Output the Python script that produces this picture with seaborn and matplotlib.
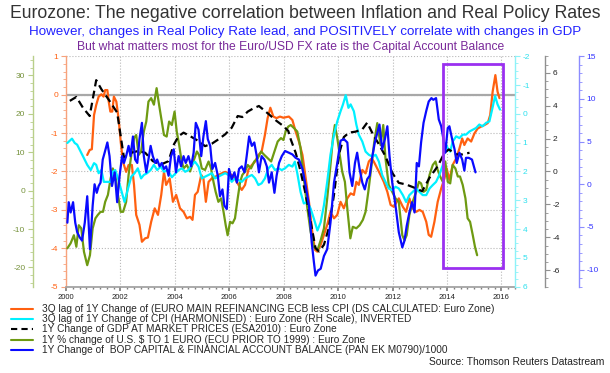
import matplotlib
matplotlib.use('Agg')
import matplotlib.pyplot as plt
from matplotlib.patches import Rectangle
from matplotlib.lines import Line2D
from matplotlib.ticker import MultipleLocator
import seaborn as sns

# (year, value) readings per series, each in its own axis units
orange_pts = [
    (2000.78, -1.57), (2000.87, -1.44), (2000.95, -1.42), (2001.03, -0.53), (2001.11, -0.27),
    (2001.20, -0.05), (2001.30, 0.01), (2001.38, -0.05), (2001.44, 0.12), (2001.52, 0.12),
    (2001.57, -0.18), (2001.63, -0.44), (2001.70, -0.44), (2001.76, -0.05), (2001.85, -0.18),
    (2001.93, -0.61), (2002.01, -1.22), (2002.09, -1.74), (2002.21, -2.01), (2002.30, -1.83),
    (2002.42, -1.83), (2002.50, -2.35), (2002.58, -3.13), (2002.70, -3.39), (2002.79, -3.83),
    (2002.91, -3.74), (2003.01, -3.72), (2003.13, -3.31), (2003.26, -2.96), (2003.38, -3.13),
    (2003.50, -2.61), (2003.60, -2.01), (2003.68, -2.35), (2003.81, -2.18), (2003.93, -2.79),
    (2004.05, -2.61), (2004.19, -2.96), (2004.32, -3.05), (2004.44, -3.22), (2004.56, -3.18),
    (2004.65, -3.26), (2004.74, -2.61), (2004.84, -2.53), (2004.97, -2.09), (2005.05, -2.18),
    (2005.14, -2.79), (2005.24, -2.27), (2005.36, -2.18), (2005.48, -2.14), (2005.60, -2.09),
    (2005.72, -2.05), (2005.85, -2.01), (2005.97, -2.05), (2006.09, -2.09), (2006.21, -2.18),
    (2006.34, -2.35), (2006.46, -2.48), (2006.58, -2.35), (2006.70, -1.96), (2006.83, -1.83),
    (2006.95, -1.74), (2007.07, -1.57), (2007.19, -1.48), (2007.31, -1.05), (2007.41, -0.61),
    (2007.51, -0.34), (2007.62, -0.57), (2007.74, -0.61), (2007.86, -0.57), (2007.99, -0.60),
    (2008.19, -0.57), (2008.32, -0.66), (2008.44, -0.96), (2008.56, -1.22), (2008.69, -1.57),
    (2008.81, -2.18), (2008.93, -2.79), (2009.05, -3.57), (2009.15, -4.04), (2009.24, -4.09),
    (2009.36, -3.91), (2009.48, -3.65), (2009.60, -3.39), (2009.72, -3.05), (2009.85, -3.22),
    (2009.97, -3.13), (2010.09, -2.79), (2010.21, -2.96), (2010.34, -2.70), (2010.46, -2.57),
    (2010.58, -2.61), (2010.67, -2.27), (2010.76, -2.35), (2010.89, -1.96), (2011.01, -2.05),
    (2011.13, -1.74), (2011.23, -1.66), (2011.31, -1.74), (2011.44, -1.92), (2011.56, -2.09),
    (2011.68, -2.27), (2011.81, -2.53), (2011.93, -2.87), (2012.05, -2.92), (2012.23, -2.70),
    (2012.38, -2.92), (2012.50, -3.05), (2012.62, -2.70), (2012.74, -2.96), (2012.87, -3.05),
    (2012.99, -3.00), (2013.11, -3.05), (2013.24, -3.31), (2013.33, -3.65), (2013.42, -3.70),
    (2013.54, -3.31), (2013.66, -2.79), (2013.79, -2.44), (2013.91, -2.18), (2013.99, -1.92),
    (2014.09, -2.22), (2014.21, -1.83), (2014.34, -1.66), (2014.46, -1.40), (2014.56, -1.14),
    (2014.64, -1.31), (2014.76, -1.14), (2014.89, -1.22), (2015.01, -1.01), (2015.13, -0.88),
    (2015.26, -0.83), (2015.38, -0.79), (2015.50, -0.74), (2015.59, -0.53), (2015.68, 0.08),
    (2015.78, 0.51), (2015.86, 0.08), (2015.93, -0.09),
]

cyan_pts = [
    (2000.05, 1.01), (2000.14, 0.93), (2000.22, 0.86), (2000.32, 1.01), (2000.41, 1.07),
    (2000.54, 1.31), (2000.66, 1.54), (2000.78, 1.77), (2000.91, 1.95), (2001.03, 1.71),
    (2001.11, 1.77), (2001.20, 2.06), (2001.30, 1.95), (2001.39, 2.36), (2001.52, 2.36),
    (2001.64, 2.36), (2001.72, 2.01), (2001.81, 1.95), (2001.91, 2.24), (2002.03, 2.65),
    (2002.15, 3.06), (2002.28, 2.59), (2002.40, 2.18), (2002.52, 2.06), (2002.64, 1.89),
    (2002.76, 2.24), (2002.86, 2.12), (2002.98, 2.06), (2003.11, 1.95), (2003.23, 1.77),
    (2003.35, 1.95), (2003.48, 1.83), (2003.60, 2.01), (2003.74, 1.95), (2003.89, 2.20),
    (2004.14, 1.95), (2004.26, 1.89), (2004.38, 2.01), (2004.50, 1.95), (2004.62, 1.77),
    (2004.74, 1.66), (2004.87, 1.83), (2004.99, 2.24), (2005.11, 2.18), (2005.24, 2.12),
    (2005.36, 2.06), (2005.48, 2.24), (2005.60, 2.18), (2005.72, 2.12), (2005.85, 2.06),
    (2005.97, 2.12), (2006.09, 2.36), (2006.21, 2.24), (2006.34, 2.30), (2006.46, 2.36),
    (2006.58, 2.24), (2006.70, 2.18), (2006.83, 2.12), (2006.95, 2.24), (2007.07, 2.47),
    (2007.19, 2.41), (2007.31, 2.24), (2007.44, 1.89), (2007.56, 1.77), (2007.68, 1.95),
    (2007.81, 1.89), (2007.93, 1.95), (2008.05, 1.89), (2008.19, 1.77), (2008.32, 1.83),
    (2008.41, 1.66), (2008.50, 2.06), (2008.62, 2.71), (2008.74, 3.11), (2008.87, 3.06),
    (2008.99, 3.29), (2009.11, 3.64), (2009.24, 4.05), (2009.36, 3.76), (2009.48, 3.17),
    (2009.60, 2.36), (2009.72, 1.42), (2009.85, 0.72), (2009.97, 0.26), (2010.09, -0.09),
    (2010.18, -0.33), (2010.28, -0.65), (2010.38, -0.21), (2010.46, -0.33), (2010.58, -0.09),
    (2010.67, 0.37), (2010.76, 0.72), (2010.89, 0.96), (2011.01, 1.31), (2011.13, 1.42),
    (2011.26, 1.48), (2011.38, 1.42), (2011.50, 1.66), (2011.62, 2.12), (2011.74, 2.36),
    (2011.86, 2.59), (2011.99, 2.65), (2012.11, 2.53), (2012.23, 2.59), (2012.38, 2.82),
    (2012.50, 3.06), (2012.62, 2.82), (2012.74, 2.71), (2012.87, 2.59), (2012.99, 2.71),
    (2013.11, 2.82), (2013.24, 2.82), (2013.36, 2.59), (2013.48, 2.47), (2013.60, 2.36),
    (2013.72, 2.12), (2013.85, 1.77), (2013.94, 1.01), (2014.03, 1.19), (2014.12, 1.31),
    (2014.21, 0.96), (2014.34, 0.78), (2014.46, 0.84), (2014.58, 0.72), (2014.70, 0.72),
    (2014.83, 0.61), (2014.95, 0.55), (2015.07, 0.49), (2015.19, 0.37), (2015.31, 0.43),
    (2015.44, 0.31), (2015.56, 0.26), (2015.66, -0.15), (2015.77, -0.62), (2015.86, -0.33),
    (2015.95, -0.15),
]

gdp_pts = [
    (2000.14, 4.29), (2000.38, 4.53), (2000.62, 3.88), (2000.87, 3.37), (2001.11, 5.55),
    (2001.30, 5.00), (2001.60, 4.29), (2001.88, 3.58), (2002.13, 0.84), (2002.40, 1.14),
    (2002.64, 1.24), (2002.91, 1.14), (2003.19, 0.63), (2003.50, 0.43), (2003.77, 0.63),
    (2003.95, 1.60), (2004.14, 2.15), (2004.32, 2.36), (2004.56, 2.15), (2004.87, 1.85),
    (2005.11, 1.54), (2005.36, 1.69), (2005.60, 1.95), (2005.85, 2.26), (2006.09, 2.66),
    (2006.31, 3.37), (2006.48, 3.31), (2006.68, 3.64), (2006.89, 3.84), (2007.09, 3.98),
    (2007.31, 3.68), (2007.53, 3.37), (2007.74, 3.07), (2007.99, 2.76), (2008.17, 2.46),
    (2008.26, 1.95), (2008.44, 1.14), (2008.62, 0.02), (2008.81, -1.40), (2008.99, -3.03),
    (2009.17, -4.65), (2009.30, -4.86), (2009.48, -4.45), (2009.66, -3.43), (2009.85, -1.40),
    (2010.03, 1.04), (2010.21, 2.09), (2010.40, 2.36), (2010.64, 2.42), (2010.89, 2.56),
    (2011.07, 2.97), (2011.28, 2.26), (2011.50, 1.65), (2011.74, 0.93), (2011.99, -0.08),
    (2012.23, -0.69), (2012.50, -0.79), (2012.81, -0.99), (2013.09, -1.20), (2013.36, -0.38),
    (2013.66, 0.32), (2013.91, 1.14), (2014.07, 1.34), (2014.34, 1.04), (2014.58, 1.04),
    (2014.83, 1.14),
]

usd_pts = [
    (2000.05, -15.0), (2000.17, -13.7), (2000.29, -11.6), (2000.38, -14.6), (2000.47, -9.0),
    (2000.56, -9.8), (2000.66, -15.9), (2000.78, -19.4), (2000.88, -16.8), (2000.98, -9.8),
    (2001.08, -7.2), (2001.17, -6.3), (2001.27, -5.5), (2001.36, -5.5), (2001.44, -2.9),
    (2001.54, -1.1), (2001.64, 3.2), (2001.72, 5.8), (2001.81, 4.1), (2001.91, -1.1),
    (2002.01, -5.5), (2002.10, -5.5), (2002.21, -2.9), (2002.30, 4.1), (2002.40, 9.3),
    (2002.50, 13.7), (2002.58, 14.5), (2002.67, 9.3), (2002.76, 10.2), (2002.86, 15.4),
    (2002.95, 18.0), (2003.03, 23.2), (2003.13, 24.1), (2003.23, 22.4), (2003.33, 26.7),
    (2003.42, 22.4), (2003.52, 18.0), (2003.60, 14.5), (2003.70, 14.1), (2003.79, 18.0),
    (2003.89, 17.1), (2003.99, 20.6), (2004.07, 15.4), (2004.16, 11.9), (2004.23, 8.5),
    (2004.32, 5.8), (2004.44, 6.7), (2004.56, 5.0), (2004.68, 7.6), (2004.81, 10.2),
    (2004.89, 9.3), (2004.99, 5.8), (2005.11, 5.4), (2005.24, 7.6), (2005.33, 5.8),
    (2005.42, 2.3), (2005.50, -0.3), (2005.60, -2.9), (2005.70, -2.0), (2005.79, -5.5),
    (2005.87, -9.0), (2005.94, -11.6), (2006.03, -8.1), (2006.12, -8.5), (2006.21, -7.2),
    (2006.31, -2.0), (2006.40, 2.3), (2006.48, 4.1), (2006.58, 5.0), (2006.68, 6.7),
    (2006.80, 5.8), (2006.92, 7.6), (2007.05, 8.5), (2007.17, 10.2), (2007.29, 9.3),
    (2007.41, 8.5), (2007.54, 7.6), (2007.66, 10.2), (2007.78, 12.8), (2007.90, 13.7),
    (2007.99, 13.2), (2008.07, 15.4), (2008.17, 16.7), (2008.26, 17.1), (2008.38, 16.3),
    (2008.50, 15.4), (2008.62, 11.1), (2008.74, 3.2), (2008.87, -4.6), (2008.99, -10.7),
    (2009.11, -14.6), (2009.24, -15.5), (2009.36, -12.9), (2009.48, -9.8), (2009.60, -2.0),
    (2009.72, 6.7), (2009.81, 13.7), (2009.88, 17.1), (2009.97, 13.7), (2010.06, 9.3),
    (2010.15, 5.0), (2010.25, 2.3), (2010.35, -5.5), (2010.45, -12.4), (2010.54, -9.4),
    (2010.67, -9.8), (2010.79, -9.0), (2010.91, -7.6), (2011.01, -5.5), (2011.11, -0.3),
    (2011.23, 6.7), (2011.33, 12.8), (2011.44, 17.6), (2011.56, 11.9), (2011.66, 17.1),
    (2011.74, 8.5), (2011.86, 1.5), (2011.99, -0.3), (2012.11, -2.0), (2012.23, -2.9),
    (2012.36, -11.6), (2012.44, -12.9), (2012.52, -11.6), (2012.62, -6.3), (2012.74, -2.9),
    (2012.87, -0.3), (2012.97, 2.3), (2013.05, 1.9), (2013.14, -0.3), (2013.24, 0.2),
    (2013.36, 4.1), (2013.48, 6.7), (2013.58, 7.6), (2013.66, 5.4), (2013.75, 3.7),
    (2013.85, 2.3), (2013.94, 7.6), (2014.03, 2.3), (2014.12, 1.9), (2014.21, 6.7),
    (2014.31, 5.8), (2014.40, 3.7), (2014.48, 3.7), (2014.58, 1.5), (2014.68, -2.0),
    (2014.76, -7.2), (2014.85, -8.1), (2014.95, -11.6), (2015.03, -14.6), (2015.11, -16.8),
]

bop_pts = [
    (2000.05, -4.5), (2000.10, -2.1), (2000.17, -3.3), (2000.26, -2.1), (2000.34, -4.5),
    (2000.41, -5.6), (2000.50, -6.2), (2000.59, -6.6), (2000.69, -4.5), (2000.78, -1.4),
    (2000.88, -7.6), (2000.98, -2.5), (2001.05, 0.0), (2001.13, -1.0), (2001.20, -0.2),
    (2001.27, 0.2), (2001.35, 2.9), (2001.42, 3.7), (2001.52, 4.9), (2001.60, 3.3),
    (2001.69, -0.2), (2001.79, 1.4), (2001.88, -2.1), (2001.97, 1.0), (2002.06, 3.3),
    (2002.13, 2.5), (2002.21, 3.3), (2002.30, 4.5), (2002.37, 3.3), (2002.46, 5.6),
    (2002.54, 2.9), (2002.62, 2.5), (2002.70, 5.3), (2002.79, 7.2), (2002.86, 3.3),
    (2002.95, 1.4), (2003.03, 2.9), (2003.11, 4.5), (2003.19, 3.3), (2003.28, 2.5),
    (2003.35, 2.9), (2003.44, 2.1), (2003.52, 2.5), (2003.60, 1.8), (2003.68, 2.1),
    (2003.77, 1.0), (2003.86, 3.3), (2003.96, 4.1), (2004.04, 1.4), (2004.14, 3.3),
    (2004.23, 2.1), (2004.32, 3.3), (2004.40, 2.5), (2004.50, 3.3), (2004.60, 2.1),
    (2004.69, 3.7), (2004.77, 7.2), (2004.87, 6.4), (2004.97, 3.3), (2005.05, 5.6),
    (2005.14, 7.4), (2005.21, 5.3), (2005.30, 4.5), (2005.38, 1.8), (2005.48, 2.5),
    (2005.58, 1.0), (2005.66, -1.4), (2005.75, -0.6), (2005.82, -2.5), (2005.91, -2.9),
    (2005.99, 1.8), (2006.09, 0.6), (2006.19, 1.4), (2006.28, 0.2), (2006.36, 1.8),
    (2006.46, 2.1), (2006.56, 1.4), (2006.64, 3.3), (2006.73, 5.6), (2006.83, 4.5),
    (2006.92, 4.9), (2007.01, 3.3), (2007.09, 1.4), (2007.19, 3.3), (2007.29, 2.9),
    (2007.38, 2.1), (2007.46, 0.2), (2007.56, 1.4), (2007.66, -1.0), (2007.74, 1.0),
    (2007.83, 2.5), (2007.93, 3.3), (2008.05, 3.9), (2008.19, 3.7), (2008.32, 3.5),
    (2008.44, 3.1), (2008.56, 2.9), (2008.69, 1.8), (2008.81, -0.2), (2008.93, -2.5),
    (2009.03, -6.8), (2009.11, -9.1), (2009.17, -10.7), (2009.26, -10.1), (2009.36, -9.9),
    (2009.48, -8.4), (2009.60, -7.6), (2009.72, -4.5), (2009.85, 0.2), (2009.97, 2.5),
    (2010.09, 5.1), (2010.21, 5.3), (2010.34, 4.9), (2010.42, 1.4), (2010.52, -0.2),
    (2010.62, 2.5), (2010.70, 3.7), (2010.79, 1.8), (2010.89, 0.2), (2010.98, -0.6),
    (2011.07, 0.6), (2011.16, 1.0), (2011.26, 3.3), (2011.35, 4.9), (2011.44, 6.0),
    (2011.52, 7.0), (2011.62, 4.1), (2011.72, 5.3), (2011.81, 6.8), (2011.89, 3.3),
    (2011.99, 0.2), (2012.11, -2.5), (2012.23, -5.6), (2012.36, -7.4), (2012.44, -6.6),
    (2012.52, -4.9), (2012.62, -3.3), (2012.72, -2.1), (2012.81, -3.3), (2012.89, 2.5),
    (2012.97, 2.1), (2013.05, 4.9), (2013.14, 7.2), (2013.24, 8.6), (2013.33, 9.7),
    (2013.43, 10.1), (2013.50, 9.9), (2013.60, 10.1), (2013.70, 7.6), (2013.79, 6.8),
    (2013.87, 5.3), (2013.94, 3.7), (2014.03, 6.6), (2014.09, 6.8), (2014.19, 5.3),
    (2014.28, 4.1), (2014.36, 2.5), (2014.46, 3.7), (2014.56, 2.9), (2014.64, 1.6),
    (2014.70, 3.1), (2014.80, 3.1), (2014.92, 2.9), (2015.05, 1.4),
]

legend_labels = [
    '3Q lag of 1Y Change of (EURO MAIN REFINANCING ECB less CPI (DS CALCULATED: Euro Zone)',
    '3Q lag of 1Y Change of CPI (HARMONISED) : Euro Zone (RH Scale), INVERTED',
    '1Y Change of GDP AT MARKET PRICES (ESA2010) : Euro Zone',
    '1Y % change of U.S. $ TO 1 EURO (ECU PRIOR TO 1999) : Euro Zone',
    '1Y Change of  BOP CAPITAL & FINANCIAL ACCOUNT BALANCE (PAN EK M0790)/1000',
]
year_ticks = list(range(2000, 2017, 2))
highlight_years = (2013.85, 2016.05)   # purple box, x range
highlight_rate = (-4.52, 0.8)          # purple box, y range on the rate axis

ORANGE = '#ff6010'
CYAN = '#00f0ff'
GREEN = '#6e9a12'
BLUE = '#0a0aff'

sns.set_theme(style='ticks')
plt.rcParams['font.family'] = ['Liberation Sans', 'DejaVu Sans']
plt.rcParams['axes.unicode_minus'] = False


def draw(ax, pts, color):
    xs, ys = zip(*pts)
    sns.lineplot(x=list(xs), y=list(ys), ax=ax, color=color, lw=1.6,
                 estimator=None, sort=False, legend=False)


def style_axis(ax, side, spine_col, label_col, major, minor, lim, outward=0):
    for s in ['top', 'bottom', 'left', 'right']:
        ax.spines[s].set_visible(False)
    ax.spines[side].set_visible(True)
    ax.spines[side].set_color(spine_col)
    ax.spines[side].set_linewidth(1.0)
    if outward:
        ax.spines[side].set_position(('outward', outward))
    if side == 'left':
        ax.yaxis.set_ticks_position('left')
        ax.yaxis.set_label_position('left')
    else:
        ax.yaxis.set_ticks_position('right')
    ax.set_ylim(*lim)
    ax.yaxis.set_major_locator(MultipleLocator(major))
    ax.yaxis.set_minor_locator(MultipleLocator(minor))
    ax.tick_params(axis='y', which='both', color=spine_col, labelcolor=label_col,
                   labelsize=6, direction='out', pad=2)
    ax.tick_params(axis='y', which='major', length=3.5, width=0.8)
    ax.tick_params(axis='y', which='minor', length=2, width=0.6)
    ax.set_ylabel('')
    ax.set_xlabel('')


fig = plt.figure(figsize=(6.1, 3.73), dpi=100)
ax = fig.add_axes([0.1082, 0.2314, 0.736, 0.6177])
ax_g = ax.twinx()
ax_c = ax.twinx()
ax_k = ax.twinx()
ax_b = ax.twinx()

# host axis: real policy rate (orange, left)
style_axis(ax, 'left', '#f7a27c', ORANGE, 1, 0.2, (-5, 1))
ax.spines['bottom'].set_visible(True)
ax.spines['bottom'].set_color('#a0a0a0')
ax.set_xlim(2000, 2016.5)
ax.set_xticks(year_ticks)
ax.xaxis.set_minor_locator(MultipleLocator(0.25))
ax.tick_params(axis='x', which='both', bottom=True, direction='out', color='#808080',
               labelsize=5.5, labelcolor='#222222', pad=2)
ax.tick_params(axis='x', which='major', length=3)
ax.tick_params(axis='x', which='minor', length=1.5)
ax.grid(True, which='major', linestyle=':', color='#b8b8b8', lw=0.8)
ax.axhline(0, color='#a8a8a8', lw=1.6, zorder=1)

style_axis(ax_g, 'left', '#b9cf8a', '#76923c', 10, 2, (-25, 35), outward=23.8)
style_axis(ax_c, 'right', '#8ef2f8', '#2ee0ee', 1, 0.25, (6, -2))
style_axis(ax_k, 'right', '#909090', '#222222', 2, 0.5, (-7, 7), outward=21.6)
style_axis(ax_b, 'right', '#8c8cff', '#3535ff', 5, 1, (-12, 15), outward=46)

draw(ax_g, usd_pts, GREEN)
draw(ax_c, cyan_pts, CYAN)
draw(ax, orange_pts, ORANGE)
draw(ax_k, gdp_pts, 'black')
draw(ax_b, bop_pts, BLUE)
ax.lines[-1].set_zorder(3)
ax_k.lines[-1].set_linestyle((0, (3.5, 2)))

for a in (ax_g, ax_c, ax_k, ax_b):
    a.set_xlim(2000, 2016.5)

box = Rectangle((highlight_years[0], highlight_rate[0]),
                highlight_years[1] - highlight_years[0],
                highlight_rate[1] - highlight_rate[0],
                transform=ax.transData, fill=False, edgecolor='#9a30f0', lw=2, zorder=5)
ax_b.add_patch(box)

fig.text(0.5, 1 - 13 / 373, 'Eurozone: The negative correlation between Inflation and Real Policy Rates',
         ha='center', va='center', fontsize=12.7, color='#333333')
fig.text(0.5, 1 - 32 / 373,
         'However, changes in Real Policy Rate lead, and POSITIVELY correlate with changes in GDP',
         ha='center', va='center', fontsize=9.6, color='#2020ff')
fig.text(291 / 610, 1 - 47 / 373,
         'But what matters most for the Euro/USD FX rate is the Capital Account Balance',
         ha='center', va='center', fontsize=8.7, color='#7a2a9a')

handles = [
    Line2D([], [], color=ORANGE, lw=1.5),
    Line2D([], [], color=CYAN, lw=1.5),
    Line2D([], [], color='black', lw=1.5, linestyle=(0, (3, 2))),
    Line2D([], [], color=GREEN, lw=1.5),
    Line2D([], [], color=BLUE, lw=1.5),
]
fig.legend(handles, legend_labels, loc='upper left', bbox_to_anchor=(11 / 610, 1 - 304 / 373),
           frameon=False, fontsize=7.3, handlelength=2.2, handletextpad=0.85,
           labelspacing=0.02, borderpad=0, borderaxespad=0, handleheight=0.4)
fig.text(604 / 610, 1 - 362 / 373, 'Source: Thomson Reuters Datastream',
         ha='right', va='center', fontsize=7.4, color='#222222')

fig.savefig('out.png', dpi=100)
